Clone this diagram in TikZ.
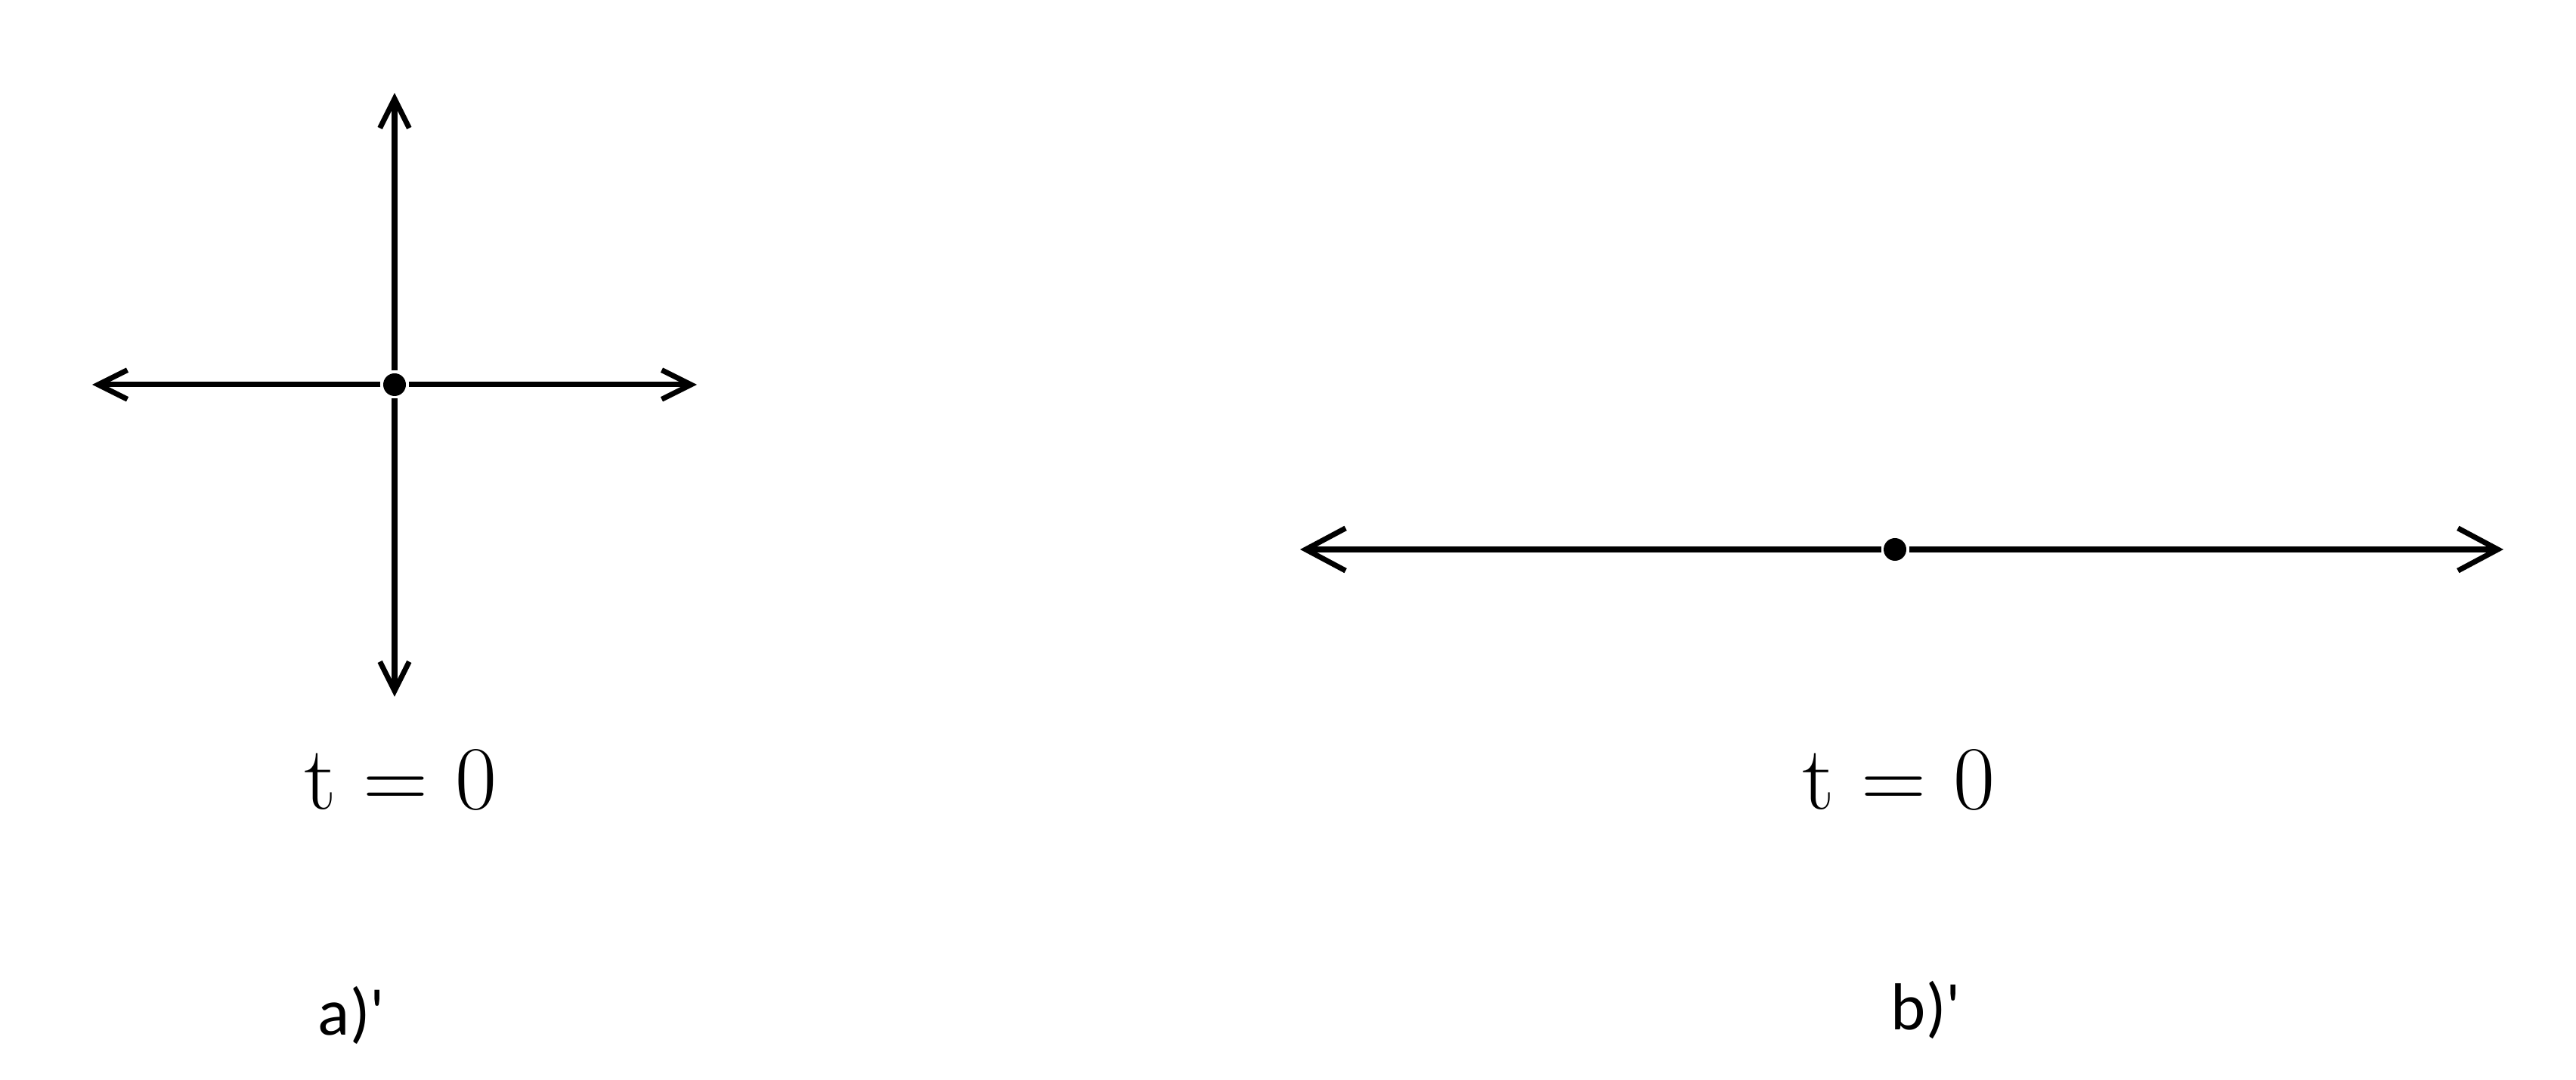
\documentclass[tikz,border=0pt]{standalone}
\usepackage{fontspec}
\newfontfamily\labelfont{Carlito}
\usetikzlibrary{arrows.meta}

\begin{document}
\begin{tikzpicture}[node distance=4cm,>={Straight Barb[length=11pt,width=11pt]},line width=2pt]
		\tikzstyle{dot}=[circle, fill=black, inner sep=0pt, minimum size=3mm]
		\tikzstyle{big tip}=[>={Straight Barb[length=15pt,width=16pt]}]
		\tikzstyle{time}=[font=\fontsize{34}{40}\selectfont]
		\tikzstyle{caption}=[font=\labelfont\fontsize{25}{28}\selectfont]
		\useasboundingbox (0,0) rectangle (34.08,14.29);

		% a) two axes
		\node [dot] (o1) at (5.22,9.20) {};
		\coordinate [left of=o1]  (w1);
		\coordinate [right of=o1] (e1);
		\coordinate [above of=o1, node distance=3.86cm] (n1);
		\coordinate [below of=o1, node distance=4.13cm] (s1);
		\draw [->] (o1) -- (w1);
		\draw [->] (o1) -- (e1);
		\draw [->] (o1) -- (n1);
		\draw [->] (o1) -- (s1);
		\node [time] (t1) at (5.30,3.97) {t = 0};
		\node [caption] (a) at (4.65,0.86) {a)\textquotesingle};

		% b) one line
		\node [dot] (o2) at (25.07,7.02) {};
		\coordinate (w2) at (17.20,7.02);
		\coordinate (e2) at (33.12,7.02);
		\draw [->, big tip] (o2) -- (w2);
		\draw [->, big tip] (o2) -- (e2);
		\node [time] (t2) at (25.12,3.97) {t = 0};
		\node [caption] (b) at (25.48,0.93) {b)\textquotesingle};
	\end{tikzpicture}
\end{document}
